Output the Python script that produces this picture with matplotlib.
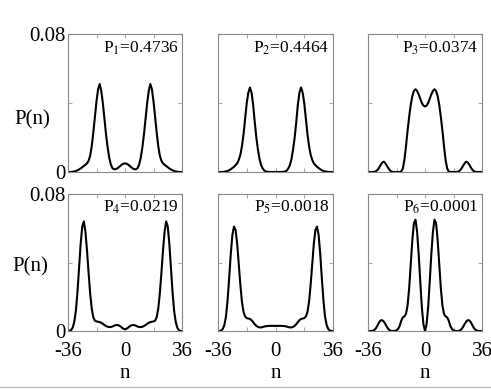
import numpy as np
import matplotlib
matplotlib.use("Agg")
import matplotlib.pyplot as plt
from matplotlib.lines import Line2D

plt.rcParams['font.family'] = ['Liberation Serif', 'DejaVu Serif']
plt.rcParams['mathtext.fontset'] = 'stix'

n = np.arange(-36, 37)

# P(n) values, in units of 1e-3, for n = -36, -35, ..., 36
p1 = [0, 0, 0.05, 0.15, 0.3, 0.6, 1.0, 1.5, 2.1, 2.8, 3.5, 4.2, 5, 6.5, 9.5, 15, 23, 32, 41, 48,
      51, 47, 40, 31, 22, 14.5, 8.5, 4.5, 2.3, 1.6, 1.6, 2.0, 2.7, 3.5, 4.3, 4.8,
      5,
      4.8, 4.3, 3.5, 2.7, 2.0, 1.6, 1.6, 2.3, 4.5, 8.5, 14.5, 22, 31, 40, 47, 51, 48, 41, 32,
      23, 15, 9.5, 6.5, 5, 4.2, 3.5, 2.8, 2.1, 1.5, 1.0, 0.6, 0.3, 0.15, 0.05, 0, 0]
p2 = [0, 0, 0, 0.05, 0.15, 0.3, 0.6, 1, 1.6, 2.3, 3, 4, 5, 7, 10, 15, 22, 31, 40, 46,
      49, 46, 39, 29, 20, 13, 7.5, 4, 2, 0.8, 0.3, 0.1, 0.05, 0, 0, 0,
      0,
      0, 0, 0, 0.05, 0.1, 0.3, 0.8, 2, 4, 7.5, 13, 20, 29, 39, 46, 49, 46, 40, 31,
      22, 15, 10, 7, 5, 4, 3, 2.3, 1.6, 1, 0.6, 0.3, 0.15, 0.05, 0, 0, 0]
p3 = [0, 0, 0, 0, 0.1, 0.4, 1.2, 2.5, 4.2, 5.5, 6, 5, 3.5, 2, 0.8, 0.2, 0, 0, 0, 0,
      0, 0.3, 2, 7, 15, 24, 32, 39, 44, 47, 48, 47, 45, 42.5, 40, 38.5,
      38,
      38.5, 40, 42.5, 45, 47, 48, 47, 44, 39, 32, 24, 15, 7, 2, 0.3, 0, 0, 0, 0,
      0, 0.2, 0.8, 2, 3.5, 5, 6, 5.5, 4.2, 2.5, 1.2, 0.4, 0.1, 0, 0, 0, 0]
p4 = [0, 0.1, 0.6, 2, 5.5, 12, 23, 37, 51, 61, 64, 58, 47, 34, 22, 13, 8, 6, 5.6, 5.4,
      5.2, 4.8, 4.2, 3.5, 2.9, 2.5, 2.3, 2.3, 2.6, 3, 3.4, 3.5, 3.3, 2.8, 2, 1.3,
      1,
      1.3, 2, 2.8, 3.3, 3.5, 3.4, 3, 2.6, 2.3, 2.3, 2.5, 2.9, 3.5, 4.2, 4.8, 5.2, 5.4, 5.6, 6,
      8, 13, 22, 34, 47, 58, 64, 61, 51, 37, 23, 12, 5.5, 2, 0.6, 0.1, 0]
p5 = [0, 0, 0.3, 1.2, 3.5, 8.5, 18, 31, 45, 56, 61, 59, 51, 39, 27, 17, 11, 8.5, 7.5, 7.3,
      7, 6.3, 5.2, 4, 3, 2.4, 2.1, 2.1, 2.3, 2.6, 2.8, 2.9, 3, 3, 3, 3,
      3,
      3, 3, 3, 3, 2.9, 2.8, 2.6, 2.3, 2.1, 2.1, 2.4, 3, 4, 5.2, 6.3, 7, 7.3, 7.5, 8.5,
      11, 17, 27, 39, 51, 59, 61, 56, 45, 31, 18, 8.5, 3.5, 1.2, 0.3, 0, 0]
p6 = [0, 0, 0, 0.15, 0.6, 1.6, 3.2, 5, 6.2, 6.3, 5.5, 4, 2.3, 1, 0.3, 0, 0, 0.1, 0.4, 1.2,
      3, 6, 8, 8.5, 10, 15, 25, 39, 53, 63, 65, 58, 45, 29, 14, 4,
      0,
      4, 14, 29, 45, 58, 65, 63, 53, 39, 25, 15, 10, 8.5, 8, 6, 3, 1.2, 0.4, 0.1,
      0, 0, 0.3, 1, 2.3, 4, 5.5, 6.3, 6.2, 5, 3.2, 1.6, 0.6, 0.15, 0, 0, 0]

curves = [p1, p2, p3, p4, p5, p6]
probs = ["0.4736", "0.4464", "0.0374", "0.0219", "0.0018", "0.0001"]

lefts = [68, 218, 368]
widths = [114, 115, 114]
tops = [34, 194]
heights = [138, 137]
W, H = 491, 389

fig = plt.figure(figsize=(4.91, 3.89), dpi=100)

for i, (p, prob) in enumerate(zip(curves, probs)):
    r, c = divmod(i, 3)
    rect = [lefts[c] / W, 1 - (tops[r] + heights[r]) / H, widths[c] / W, heights[r] / H]
    ax = fig.add_axes(rect)
    ax.plot(n, np.array(p) * 1e-3, color='black', lw=1.5)
    ax.set_xlim(-36, 36)
    ax.set_ylim(0, 0.08)
    ax.set_xticks([-36, -18, 0, 18, 36])
    ax.set_yticks([0, 0.04, 0.08])
    ax.tick_params(direction='in', length=3, color='#aaaaaa', top=True, right=True,
                   labelsize=15)
    ax.tick_params(axis='y', pad=2)
    ax.tick_params(axis='x', pad=8)
    for s in ax.spines.values():
        s.set_color('#888888')
        s.set_linewidth(0.8)
    if c == 0:
        ax.set_yticklabels(['0', '', '0.08'])
        ax.text(-0.31 if r == 0 else -0.33, 0.38 if r == 0 else 0.47, 'P(n)',
                transform=ax.transAxes, ha='center', va='center', fontsize=15)
    else:
        ax.set_yticklabels([])
    if r == 1:
        ax.set_xticklabels(['-36', '', '0', '', '36'])
        ax.set_xlabel('n', fontsize=15)
        ax.xaxis.set_label_coords(0.5, -0.24)
    else:
        ax.set_xticklabels([])
    ax.text(0.97, 0.9, 'P$_{%d}$=%s' % (i + 1, prob), transform=ax.transAxes,
            ha='right', va='center', fontsize=12.5)

fig.add_artist(Line2D([0, 1], [1 - 387 / H, 1 - 387 / H], color='#bbbbbb', lw=1))

fig.savefig("out.png", dpi=100)
plt.close(fig)
